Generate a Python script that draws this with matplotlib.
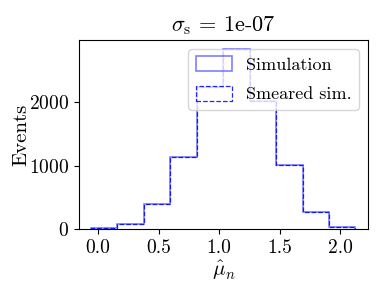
import numpy as np
import matplotlib
matplotlib.use("Agg")
import matplotlib.pyplot as plt

plt.rcParams['font.family'] = ['cmr10', 'DejaVu Serif']
plt.rcParams['mathtext.fontset'] = 'cm'
plt.rcParams['axes.formatter.use_mathtext'] = True
plt.rcParams['axes.unicode_minus'] = False

bin_edges = [-0.058 + i * 0.2184 for i in range(11)]
counts_sim = [8, 74, 390, 1132, 2243, 2837, 2011, 1001, 264, 38]
counts_smeared = [8, 74, 390, 1132, 2243, 2837, 2011, 1001, 264, 38]
title = r"$\sigma_\mathrm{s}$ = 1e-07"

fig = plt.figure(figsize=(3.88, 2.91), dpi=100)
ax = fig.add_axes([79/388, 1 - 229/291, (368-79)/388, (229-40)/291])

centers = [(bin_edges[i] + bin_edges[i+1]) / 2 for i in range(10)]
ax.hist(centers, bins=bin_edges, weights=counts_sim, histtype='step',
        color='blue', alpha=0.5, linewidth=1.2, label='Simulation')
ax.hist(centers, bins=bin_edges, weights=counts_smeared, histtype='step',
        color='blue', linestyle='--', linewidth=0.9, alpha=0.85,
        label='Smeared sim.')

ax.set_xlim(-0.157, 2.23)
ax.set_xticks([0.0, 0.5, 1.0, 1.5, 2.0])
ax.set_xticklabels(['0.0', '0.5', '1.0', '1.5', '2.0'])
ax.set_yticks([0, 1000, 2000])
ax.tick_params(labelsize=14)
ax.set_xlabel(r"$\hat{\mu}_n$", fontsize=15, labelpad=1)
ax.set_ylabel("Events", fontsize=15, labelpad=-1)
ax.set_title(title, fontsize=16)
ax.legend(loc='upper right', fontsize=13, labelspacing=0.7, handleheight=0.9)

fig.savefig("out.png", dpi=100)
